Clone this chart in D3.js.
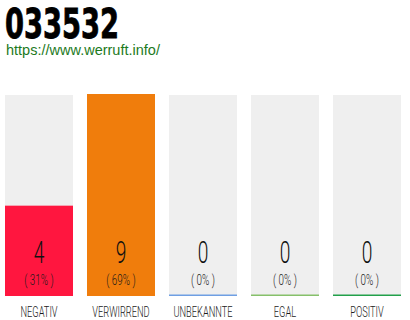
<!DOCTYPE html>
<html>
<head>
<meta charset="utf-8">
<script src="https://cdn.jsdelivr.net/npm/d3@7"></script>
<style>
body { margin:0; background:#fff; }
</style>
</head>
<body>
<div id="chart"></div>
<script>
var categories = ["NEGATIV", "VERWIRREND", "UNBEKANNTE", "EGAL", "POSITIV"];
var counts = [4, 9, 0, 0, 0];
var percents = ["31%", "69%", "0%", "0%", "0%"];
var colors = ["#ff163f", "#f07d0c", "#6f9fe3", "#86c06a", "#22a04a"];

var width = 410, height = 320;
var svg = d3.select("#chart").append("svg")
    .attr("width", width)
    .attr("height", height);

var x = d3.scaleBand()
    .domain(categories)
    .range([5, 401])
    .paddingInner(14/82)
    .paddingOuter(0);

var y = d3.scaleLinear()
    .domain([0, d3.max(counts)])
    .range([295, 94]);

// title
svg.append("text")
    .attr("x", 5)
    .attr("y", 38)
    .attr("font-family", "DejaVu Sans Condensed")
    .attr("font-weight", "bold")
    .attr("font-size", 41)
    .attr("textLength", 114)
    .attr("lengthAdjust", "spacingAndGlyphs")
    .attr("stroke", "#000")
    .attr("stroke-width", 0.8)
    .attr("fill", "#000")
    .text("033532");

svg.append("text")
    .attr("x", 6)
    .attr("y", 55)
    .attr("font-family", "Liberation Sans")
    .attr("font-size", 14.5)
    .attr("fill", "#1d7a1d")
    .text("https://www.werruft.info/");

var data = categories.map(function(c, i){
    return {cat: c, count: counts[i], pct: percents[i], color: colors[i]};
});

var g = svg.selectAll(".bar_g")
    .data(data)
    .enter()
    .append("g")
    .attr("class", "bar_g");

// background
g.append("rect")
    .attr("x", function(d){ return x(d.cat); })
    .attr("y", 95)
    .attr("width", x.bandwidth())
    .attr("height", 295 - 95)
    .attr("fill", "#efefef");

g.append("rect")
    .attr("x", function(d){ return x(d.cat); })
    .attr("y", function(d){ return y(d.count); })
    .attr("width", x.bandwidth())
    .attr("height", function(d){ return y(0) - y(d.count); })
    .attr("fill", function(d){ return d.color; });

g.append("rect")
    .attr("x", function(d){ return x(d.cat); })
    .attr("y", 294.5)
    .attr("width", x.bandwidth())
    .attr("height", 1.5)
    .attr("fill", function(d){ return d.color; });

function condensed(sel, cx, cy, sx) {
    sel.attr("transform", "translate(" + cx + "," + cy + ") scale(" + sx + ",1)");
}

g.append("text")
    .each(function(d){
        condensed(d3.select(this), x(d.cat) + x.bandwidth()/2, 263, 0.6);
    })
    .attr("text-anchor", "middle")
    .attr("font-family", "Roboto")
    .attr("font-weight", 300)
    .attr("font-size", 32)
    .attr("fill", "#111")
    .text(function(d){ return d.count; });

g.append("text")
    .each(function(d){
        condensed(d3.select(this), x(d.cat) + x.bandwidth()/2, 285, 0.68);
    })
    .attr("text-anchor", "middle")
    .attr("font-family", "Roboto")
    .attr("font-weight", 300)
    .attr("font-size", 14.5)
    .attr("fill", "#1a1a1a")
    .text(function(d){ return "( " + d.pct + " )"; });

g.append("text")
    .each(function(d){
        condensed(d3.select(this), x(d.cat) + x.bandwidth()/2, 317, 0.64);
    })
    .attr("text-anchor", "middle")
    .attr("font-family", "Roboto")
    .attr("font-weight", 300)
    .attr("font-size", 14.5)
    .attr("fill", "#1a1a1a")
    .text(function(d){ return d.cat; });
</script>
</body>
</html>
